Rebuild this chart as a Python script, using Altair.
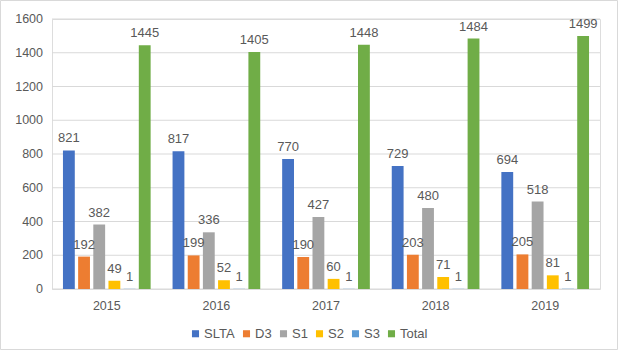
import altair as alt
import pandas as pd

years = ["2015", "2016", "2017", "2018", "2019"]
series = ["SLTA", "D3", "S1", "S2", "S3", "Total"]
colors = ["#4472C4", "#ED7D31", "#A5A5A5", "#FFC000", "#5B9BD5", "#70AD47"]
SLTA = [821, 817, 770, 729, 694]
D3 = [192, 199, 190, 203, 205]
S1 = [382, 336, 427, 480, 518]
S2 = [49, 52, 60, 71, 81]
S3 = [1, 1, 1, 1, 1]
Total = [1445, 1405, 1448, 1484, 1499]
yticks = [0, 200, 400, 600, 800, 1000, 1200, 1400, 1600]

vals = {"SLTA": SLTA, "D3": D3, "S1": S1, "S2": S2, "S3": S3, "Total": Total}
rows = []
for s in series:
    for y, v in zip(years, vals[s]):
        rows.append({"year": y, "series": s, "value": v})
df = pd.DataFrame(rows)
tick_df = pd.DataFrame({"value": yticks})

font = "Liberation Sans"
grey = "#595959"

x = alt.X("year:N", sort=years, title=None,
          scale=alt.Scale(paddingInner=0.2, paddingOuter=0.1),
          axis=alt.Axis(labelAngle=0, ticks=False, domain=False, grid=False,
                        labelPadding=10, labelFontSize=12.5, labelColor=grey,
                        labelFont=font))
xo = alt.XOffset("series:N", sort=series, scale=alt.Scale(paddingInner=0.22))
y = alt.Y("value:Q", title=None, scale=alt.Scale(domain=[0, 1600], nice=False),
          axis=None)

grid = alt.Chart(tick_df).mark_rule(color="#D9D9D9", strokeWidth=1).encode(
    y=y, x=alt.value(0), x2=alt.value(548)
)
ylabels = alt.Chart(tick_df).mark_text(
    align="right", baseline="middle", fontSize=12.5, color=grey, font=font
).encode(y=y, x=alt.value(-9), text=alt.Text("value:Q", format="d"))

bars = alt.Chart(df).mark_bar().encode(
    x=x, xOffset=xo, y=y,
    color=alt.Color("series:N", sort=series,
                    scale=alt.Scale(domain=series, range=colors),
                    legend=alt.Legend(title=None, orient="none", direction="horizontal",
                                      legendX=137, legendY=308, symbolType="square",
                                      symbolSize=50, labelFontSize=13, labelColor=grey,
                                      labelFont=font, columnPadding=5, symbolOffset=0,
                                      labelOffset=2)),
)

labels = alt.Chart(df).mark_text(dy=-12, fontSize=13, color=grey, font=font).encode(
    x=x, xOffset=xo, y=y, text=alt.Text("value:Q", format="d"),
)

border = alt.Chart(pd.DataFrame({"a": [0]})).mark_rect(
    fill=None, stroke="#D9D9D9", strokeWidth=1, clip=False
).encode(x=alt.value(-51.5), x2=alt.value(565.5), y=alt.value(-18.5), y2=alt.value(330.5))

chart = alt.layer(grid, ylabels, bars, labels, border).properties(
    width=548, height=270,
    autosize=alt.AutoSizeParams(type="none"),
    padding={"left": 52, "top": 19, "right": 19, "bottom": 62},
).configure_view(stroke=None).configure(background="white")

chart.save("out.html", embed_options={"renderer": "svg", "actions": False})
